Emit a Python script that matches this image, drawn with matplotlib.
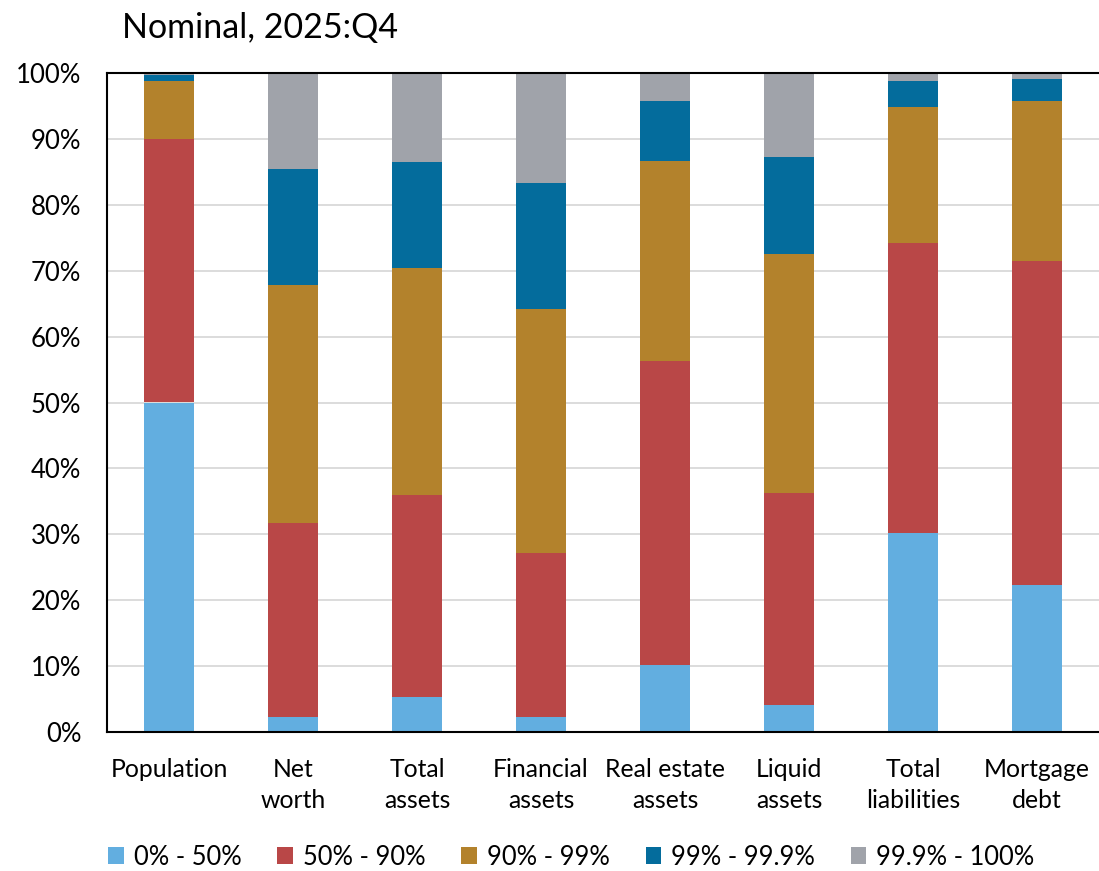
import numpy as np
import matplotlib.pyplot as plt
from matplotlib.ticker import FuncFormatter

plt.rcParams["font.family"] = ["Lato", "DejaVu Sans"]

# ----------------------------
# data (percent of total)
# ----------------------------
categories = ["Population", "Net\nworth", "Total\nassets", "Financial\nassets",
              "Real estate\nassets", "Liquid\nassets", "Total\nliabilities", "Mortgage\ndebt"]

bottom_50 = [50.0, 2.3, 5.3, 2.3, 10.1, 4.1, 30.2, 22.3]
next_40 = [40.0, 29.4, 30.6, 24.8, 46.2, 32.2, 44.0, 49.2]
next_9 = [8.9, 36.1, 34.6, 37.1, 30.4, 36.3, 20.7, 24.3]
next_09 = [0.8, 17.7, 16.1, 19.1, 9.1, 14.7, 3.9, 3.3]
top_01 = [0.3, 14.5, 13.4, 16.7, 4.2, 12.7, 1.2, 0.9]

series_names = ["0% - 50%", "50% - 90%", "90% - 99%", "99% - 99.9%", "99.9% - 100%"]
colors = ["#62AEE0", "#B94747", "#B3822C", "#046C9C", "#A0A3AA"]

series = [bottom_50, next_40, next_9, next_09, top_01]

fig = plt.figure(figsize=(10.99, 8.71), dpi=100)
ax = fig.add_axes([107 / 1099, 1 - 731.7 / 871, 1 - 107 / 1099, (731.7 - 73.3) / 871])

x = np.arange(len(categories))
base = np.zeros(len(categories))
for name, vals, col in zip(series_names, series, colors):
    ax.bar(x, vals, width=0.4, bottom=base, color=col, label=name, zorder=3)
    base += np.array(vals)

ax.set_xlim(-0.5, len(categories) - 0.5)
ax.set_ylim(0, 100)
ax.set_yticks(np.arange(0, 101, 10))
ax.yaxis.set_major_formatter(FuncFormatter(lambda v, p: f"{v:.0f}%"))
ax.set_xticks(x)
ax.set_xticklabels(categories, fontsize=17.8, linespacing=1.4)
ax.tick_params(axis="y", labelsize=18.5, length=0, pad=18.5)
ax.tick_params(axis="x", length=0, pad=19)
ax.grid(axis="y", color="#d9d9d9", linewidth=1.3, zorder=0)

ax.spines["right"].set_visible(False)
for s in ["left", "bottom", "top"]:
    ax.spines[s].set_linewidth(1.5)
    ax.spines[s].set_color("black")
    ax.spines[s].set_zorder(4)

fig.text(122 / 1099, 1 - 28 / 871, "Nominal, 2025:Q4", fontsize=24.5, va="center", ha="left")

leg = fig.legend(loc="center", bbox_to_anchor=(0.52, 1 - 857 / 871), ncol=5, frameon=False,
                 fontsize=18.4, handlelength=0.6, handleheight=0.6, handletextpad=0.4,
                 columnspacing=1.4)

fig.savefig("out.png", dpi=100)
